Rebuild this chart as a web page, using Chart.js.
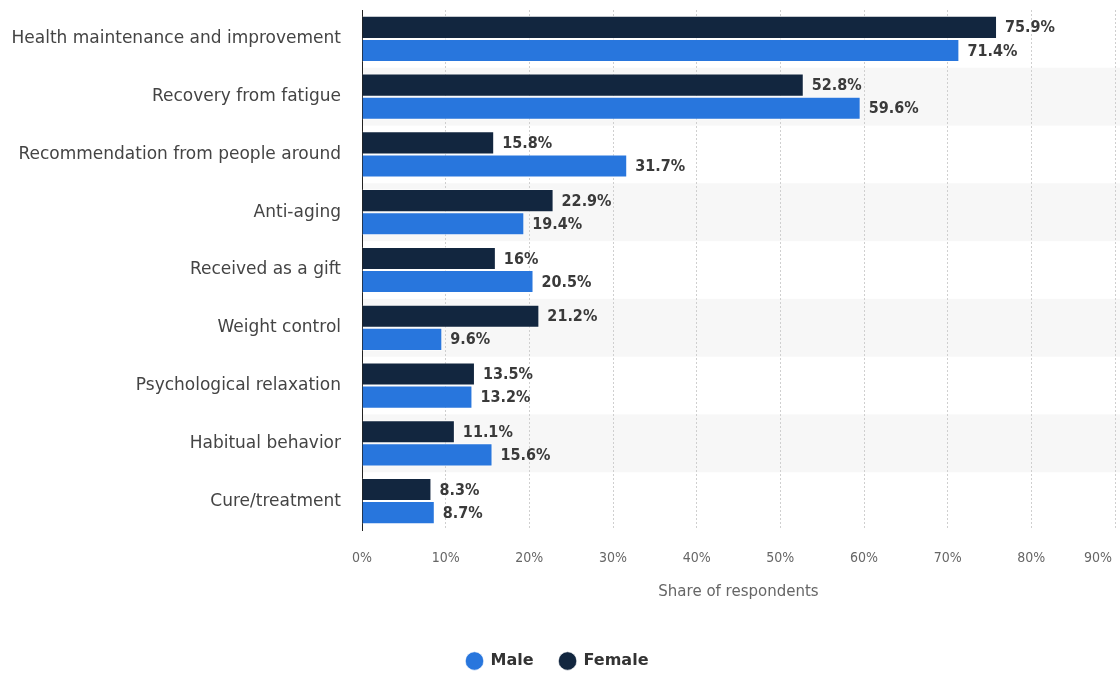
<!DOCTYPE html>
<html>
<head>
<meta charset="utf-8">
<script src="https://cdn.jsdelivr.net/npm/chart.js@4"></script>
<style>
  html, body { margin: 0; padding: 0; background: #fff; }
  #wrap { width: 1120px; height: 675px; }
</style>
</head>
<body>
<div id="wrap"><canvas id="reasonChart" width="1120" height="675"></canvas></div>
<script>
const categories = [
    'Health maintenance and improvement',
    'Recovery from fatigue',
    'Recommendation from people around',
    'Anti-aging',
    'Received as a gift',
    'Weight control',
    'Psychological relaxation',
    'Habitual behavior',
    'Cure/treatment'
];
const femaleValues = [75.9, 52.8, 15.8, 22.9, 16, 21.2, 13.5, 11.1, 8.3];
const maleValues = [71.4, 59.6, 31.7, 19.4, 20.5, 9.6, 13.2, 15.6, 8.7];
const xTicks = [0, 10, 20, 30, 40, 50, 60, 70, 80, 90];

// shaded band behind every second category row,
// and keep the last x label inside the canvas
const rowBands = {
    id: 'rowBands',
    beforeDraw(chart) {
        const { ctx, chartArea, scales } = chart;
        const y = scales.y;
        const step = (chartArea.bottom - chartArea.top) / categories.length;
        ctx.save();
        ctx.fillStyle = '#f7f7f7';
        categories.forEach((c, i) => {
            if (i % 2 === 1) {
                const mid = y.getPixelForValue(i);
                ctx.fillRect(chartArea.left, mid - step / 2, chart.width - chartArea.left, step);
            }
        });
        ctx.restore();

        const items = scales.x.getLabelItems();
        const last = items[items.length - 1];
        if (last) {
            last.options.textAlign = 'right';
            last.options.translation[0] = chart.width - 8;
        }
    }
};

// value text at the end of each bar
const valueLabels = {
    id: 'valueLabels',
    afterDatasetsDraw(chart) {
        const { ctx } = chart;
        ctx.save();
        ctx.font = 'bold 16px "DejaVu Sans Condensed"';
        ctx.fillStyle = '#3a3a3a';
        ctx.textBaseline = 'middle';
        ctx.textAlign = 'left';
        chart.data.datasets.forEach((ds, di) => {
            chart.getDatasetMeta(di).data.forEach((bar, i) => {
                ctx.fillText(ds.data[i] + '%', bar.x + 8, bar.y + 1);
            });
        });
        ctx.restore();
    }
};

new Chart(document.getElementById('reasonChart'), {
    type: 'bar',
    data: {
        labels: categories,
        datasets: [
            {
                label: 'Female',
                data: femaleValues,
                backgroundColor: '#12263f',
                borderColor: 'rgba(255,255,255,0.6)',
                borderWidth: 1,
                categoryPercentage: 0.8,
                barPercentage: 1
            },
            {
                label: 'Male',
                data: maleValues,
                backgroundColor: '#2876dd',
                borderColor: 'rgba(255,255,255,0.6)',
                borderWidth: 1,
                categoryPercentage: 0.8,
                barPercentage: 1
            }
        ]
    },
    options: {
        indexAxis: 'y',
        responsive: false,
        animation: false,
        layout: { padding: { top: 10, right: 5, left: 0, bottom: -4 } },
        scales: {
            x: {
                min: 0,
                max: 90,
                afterBuildTicks(scale) {
                    scale.ticks = xTicks.map(v => ({ value: v }));
                },
                afterFit(scale) {
                    scale.height = 97;
                    scale.paddingLeft = 0;
                    scale.paddingRight = 0;
                },
                grid: {
                    color: '#cfcfcf',
                    drawTicks: false
                },
                border: { display: false, dash: [2, 2] },
                ticks: {
                    padding: 20,
                    color: '#666',
                    font: { family: '"DejaVu Sans Condensed"', size: 14 },
                    callback: v => v + '%'
                },
                title: {
                    display: true,
                    text: 'Share of respondents',
                    color: '#666',
                    font: { family: '"DejaVu Sans"', size: 15 },
                    padding: { top: 0, bottom: 26 }
                }
            },
            y: {
                afterFit(scale) {
                    scale.width = 362;
                    scale.paddingTop = 0;
                    scale.paddingBottom = 0;
                },
                grid: { display: false, drawTicks: false },
                border: { display: true, color: '#222', width: 1 },
                ticks: {
                    padding: 21,
                    color: '#444',
                    font: { family: '"DejaVu Sans"', size: 17 }
                }
            }
        },
        plugins: {
            legend: {
                position: 'bottom',
                reverse: true,
                labels: {
                    usePointStyle: true,
                    pointStyle: 'circle',
                    boxWidth: 16,
                    boxHeight: 13,
                    padding: 26,
                    color: '#333',
                    font: { family: '"DejaVu Sans"', size: 16, weight: 'bold' }
                }
            },
            tooltip: { enabled: false }
        }
    },
    plugins: [rowBands, valueLabels]
});
</script>
</body>
</html>
